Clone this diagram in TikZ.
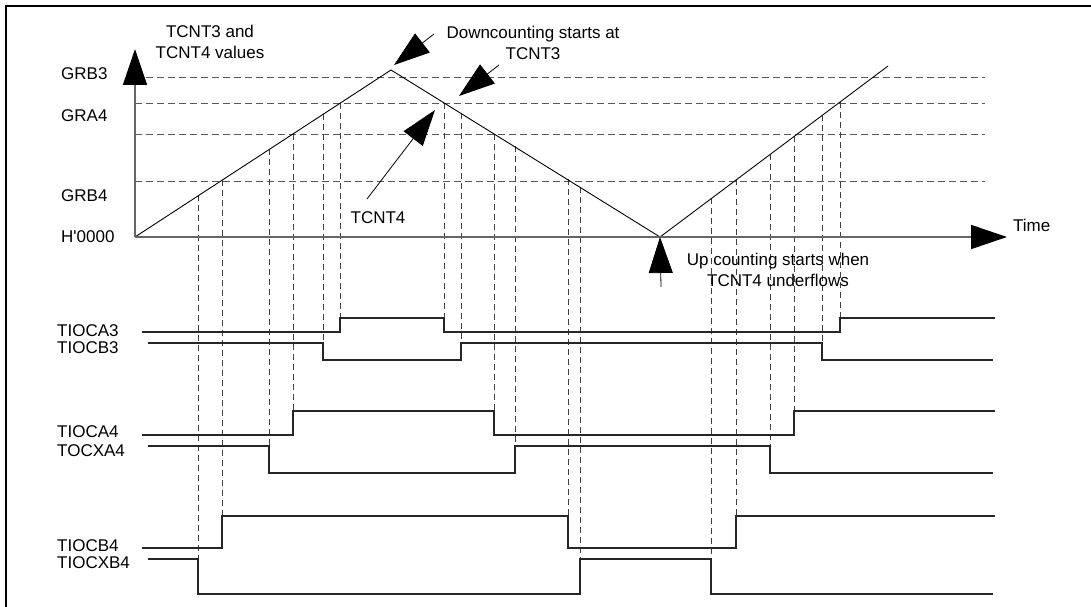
\documentclass[tikz,border=0pt]{standalone}
\usepackage{fontspec}
\setmainfont{Liberation Sans}
\usetikzlibrary{arrows.meta, positioning}

\begin{document}
\begin{tikzpicture}[x=1pt, y=-1pt, font=\fontsize{17}{21}\selectfont]
	\tikzstyle{lbl} = [anchor=west, inner sep=0pt]
	\tikzstyle{note} = [align=center, inner sep=0pt]
	\tikzstyle{sig} = [line width=1.1pt, draw=black!85]
	\tikzstyle{guide} = [line width=0.9pt, draw=black!75, dash pattern=on 6pt off 4pt]
	\tikzstyle{level} = [line width=0.9pt, draw=black!65, dash pattern=on 7pt off 4pt]
	\tikzstyle{axis} = [line width=1.6pt, draw=black!60, 
	-{Triangle[length=36pt, width=24pt, color=black]}]
	\tikzstyle{arrow} = [line width=0.8pt, -{Triangle[length=36pt, width=24pt]}]
	\useasboundingbox (0,0) rectangle (1091,607);
	\draw[line width=2.5pt] (6,607) -- (6,6) -- (1091,6);
	% counter values
	\coordinate (orig) at (135,237);
	\coordinate (peak) at (391,70);
	\coordinate (valley) at (660,237);
	\coordinate (rise) at (888,66);
	\foreach \y in {77,103,134,181}
		\draw[level] (135,\y) -- (985,\y);
	\foreach \x/\yt/\yb in {198/195/559, 222/180/516, 269/149/446, 293/134/411,
		323/114/343, 340/103/318, 444/103/318, 461/113/343, 494/134/411,
		515/146/446, 568/179/516, 580/187/559, 711/198/559, 736/179/516,
		770/154/446, 794/136/411, 822/115/343, 840/102/318}
		\draw[guide] (\x,\yt) -- (\x,\yb);
	\draw[line width=0.9pt] (orig) -- (peak) -- (valley) -- (rise);
	\draw[axis] (orig) -- (135,49);
	\draw[axis] (orig) -- (1007,237);
	\node (yLabel) [note] at (210,41.5) {TCNT3 and\\TCNT4 values};
	\node (grbThree) [lbl] at (61,74) {GRB3};
	\node (graFour) [lbl] at (61,116) {GRA4};
	\node (grbFour) [lbl] at (61,195.5) {GRB4};
	\node (zero) [lbl] at (61,237) {H\textquotesingle 0000};
	\node (time) [lbl] at (1013,225) {Time};
	\node (downNote) [note] at (533,42.5) {Downcounting starts at\\TCNT3};
	\node (tcntFour) [note] at (378,217.5) {TCNT4};
	\node (upNote) [note] at (778,270) {Up counting starts when\\TCNT4 underflows};
	% annotation arrows
	\coordinate (downTail) at (434,34);
	\coordinate (downTip) at (394,65);
	\coordinate (threeTail) at (499,65);
	\coordinate (threeTip) at (459,96);
	\coordinate (fourTail) at (367,199);
	\coordinate (fourTip) at (435,110);
	\coordinate (upTail) at (661,287);
	\draw[arrow] (downTail) -- (downTip);
	\draw[arrow] (threeTail) -- (threeTip);
	\draw[arrow] (fourTail) -- (fourTip);
	\draw[arrow] (upTail) -- (valley);
	% output waveforms
	\node (tiocaThree) [lbl] at (57,331) {TIOCA3};
	\node (tiocbThree) [lbl] at (57,348) {TIOCB3};
	\node (tiocaFour) [lbl] at (57,432) {TIOCA4};
	\node (tocxaFour) [lbl] at (57,451) {TOCXA4};
	\node (tiocbFour) [lbl] at (57,546) {TIOCB4};
	\node (tiocxbFour) [lbl] at (57,563) {TIOCXB4};
	\draw[sig] (142,332) -- (340,332) -- (340,318) -- (444,318) -- (444,332)
		-- (840,332) -- (840,318) -- (995,318);
	\draw[sig] (148,343) -- (323,343) -- (323,360) -- (461,360) -- (461,343)
		-- (822,343) -- (822,360) -- (993,360);
	\draw[sig] (142,435) -- (293,435) -- (293,411) -- (494,411) -- (494,435)
		-- (794,435) -- (794,411) -- (995,411);
	\draw[sig] (148,446) -- (269,446) -- (269,473) -- (515,473) -- (515,446)
		-- (770,446) -- (770,473) -- (993,473);
	\draw[sig] (142,548) -- (222,548) -- (222,516) -- (568,516) -- (568,548)
		-- (736,548) -- (736,516) -- (995,516);
	\draw[sig] (148,559) -- (198,559) -- (198,594) -- (580,594) -- (580,559)
		-- (711,559) -- (711,594) -- (993,594);
\end{tikzpicture}
\end{document}
